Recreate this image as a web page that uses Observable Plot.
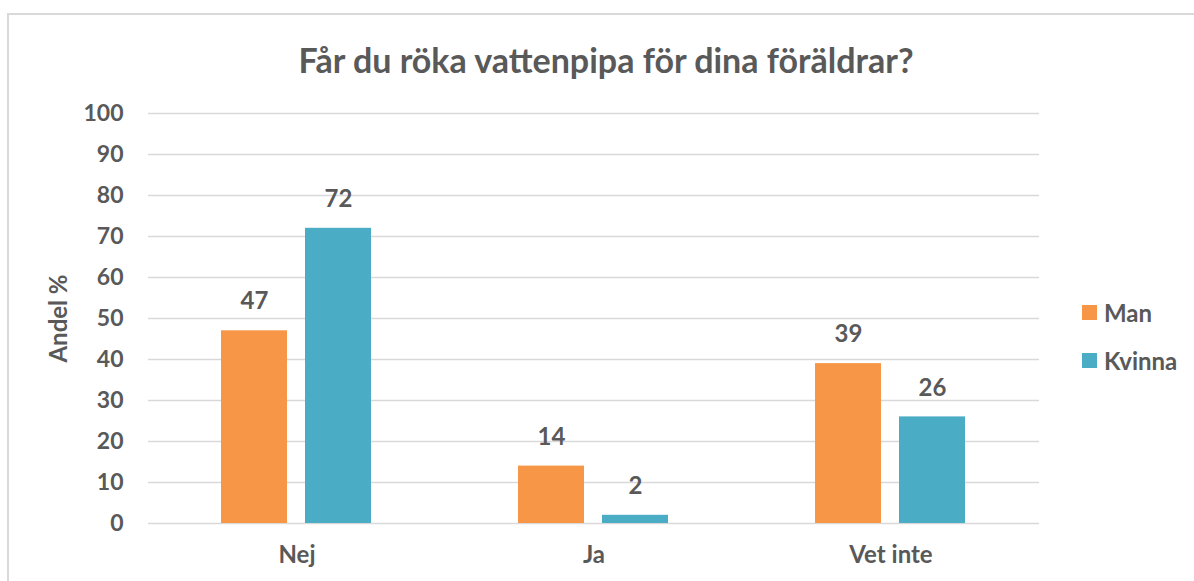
<!DOCTYPE html>
<html>
<head>
<meta charset="utf-8">
<script src="https://cdn.jsdelivr.net/npm/d3@7"></script>
<script src="https://cdn.jsdelivr.net/npm/@observablehq/plot@0.6"></script>
<style>
  html, body { margin: 0; padding: 0; background: #fff; }
  #wrap { position: relative; width: 1194px; height: 581px; overflow: hidden; font-family: Lato, "Open Sans", sans-serif; }
  #frame { position: absolute; left: 7px; top: 13px; width: 1200px; height: 600px; border: 2px solid #d9d9d9; box-sizing: border-box; }
  #title { position: absolute; left: 0; width: 1212px; top: 38px; line-height: 44px; text-align: center; font-size: 34px; font-weight: 700; color: #595959; }
  #chart { position: absolute; left: 0; top: 0; }
  #legend { position: absolute; left: 1082px; top: 288px; color: #595959; font-size: 24px; font-weight: 700; }
  .item { display: flex; align-items: center; height: 48px; }
  .sw { width: 15px; height: 15px; margin-right: 7px; }
</style>
</head>
<body>
<div id="wrap">
  <div id="frame"></div>
  <div id="title">Får du röka vattenpipa för dina föräldrar?</div>
  <div id="chart"></div>
  <div id="legend"></div>
</div>
<script>
const categories = ["Nej", "Ja", "Vet inte"];
const seriesNames = ["Man", "Kvinna"];
const manValues = [47, 14, 39];
const kvinnaValues = [72, 2, 26];
const yTicks = [0, 10, 20, 30, 40, 50, 60, 70, 80, 90, 100];
const colors = ["#F79646", "#4BACC6"];
const yLabel = "Andel %";

const data = [];
categories.forEach((c, i) => {
  data.push({category: c, series: "Man", value: manValues[i]});
  data.push({category: c, series: "Kvinna", value: kvinnaValues[i]});
});

const textColor = "#595959";
const chart = Plot.plot({
  width: 1194,
  height: 581,
  marginLeft: 147,
  marginRight: 154,
  marginTop: 113,
  marginBottom: 58,
  style: {fontFamily: "Lato, 'Open Sans', sans-serif", color: textColor, background: "transparent", overflow: "visible"},
  fx: {domain: categories, padding: 0, label: null},
  x: {domain: seriesNames, paddingInner: 0.212, paddingOuter: 0.857, axis: null},
  y: {domain: [0, 100], ticks: yTicks, label: null},
  color: {domain: seriesNames, range: colors},
  marks: [
    Plot.ruleY(yTicks, {stroke: "#d9d9d9", strokeWidth: 1.5}),
    Plot.barY(data, {fx: "category", x: "series", y: "value", fill: "series"}),
    Plot.text(data, {fx: "category", x: "series", y: "value", text: d => String(d.value), dy: -29, fontSize: 24, fontWeight: 700, fill: textColor}),
    Plot.axisY({ticks: yTicks, tickSize: 0, tickPadding: 25, fontSize: 23, fontWeight: 700, label: null}),
    Plot.axisFx({anchor: "bottom", tickSize: 0, tickPadding: 22, fontSize: 24, fontWeight: 700, label: null}),
    Plot.text([yLabel], {frameAnchor: "left", textAnchor: "middle", dx: -89, rotate: -90, text: d => d, fontSize: 24, fontWeight: 700, fill: textColor, facetAnchor: "left"})
  ]
});
document.getElementById("chart").appendChild(chart);

const legend = document.getElementById("legend");
seriesNames.forEach((s, i) => {
  const it = document.createElement("div");
  it.className = "item";
  const sw = document.createElement("div");
  sw.className = "sw";
  sw.style.background = colors[i];
  const lb = document.createElement("span");
  lb.textContent = s;
  it.appendChild(sw); it.appendChild(lb);
  legend.appendChild(it);
});
</script>
</body>
</html>
